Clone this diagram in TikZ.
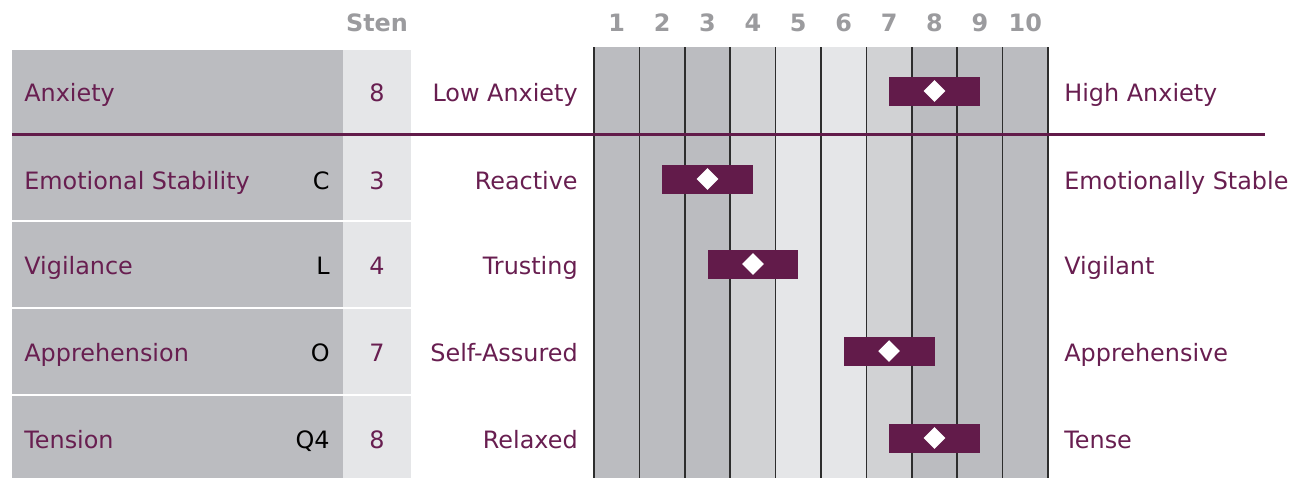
\documentclass[tikz,border=0pt]{standalone}
\usepackage{fontspec}
\setmainfont{DejaVu Sans}
\usetikzlibrary{calc,shapes.geometric}
\tikzset{
  row-text/.style={
    font=\fontsize{13.6}{16}\selectfont,
    inner sep=0pt
  },
  name-text/.style={row-text, text=textpurple, anchor=base west},
  factor-text/.style={row-text, text=black, anchor=base east},
  sten-text/.style={row-text, text=textpurple, anchor=base},
  pole-left/.style={row-text, text=textpurple, anchor=base east},
  pole-right/.style={row-text, text=textpurple, anchor=base west},
  head-text/.style={row-text, font=\fontsize{13.6}{16}\selectfont\bfseries, text=headgray, anchor=base},
  grid-line/.style={draw=gridline, line width=1pt},
  sten-diamond/.style={diamond, fill=white, inner sep=0pt, minimum size=0.44cm}
}
\definecolor{textpurple}{RGB}{104,30,80}
\definecolor{stenpurple}{RGB}{98,27,74}
\definecolor{bandgray}{RGB}{187,188,192}
\definecolor{midgray}{RGB}{209,210,212}
\definecolor{palegray}{RGB}{229,230,232}
\definecolor{headgray}{RGB}{155,155,158}
\definecolor{gridline}{RGB}{45,45,45}
\def\colw{45.4}
% #1 id, #2 row centre, #3 scale, #4 factor, #5 sten, #6 low pole, #7 high pole
\newcommand{\stenrow}[7]{
  \node[name-text] (name-#1) at (24,#2+9) {#3};
  \node[factor-text] (factor-#1) at (330,#2+9) {#4};
  \node[sten-text] (sten-#1) at (377,#2+9) {#5};
  \node[pole-left] (low-#1) at (578,#2+9) {#6};
  \node[pole-right] (high-#1) at (1064,#2+9) {#7};
  \fill[stenpurple] ({594+(#5-1.5)*\colw},#2-15.5) rectangle ({594+(#5+0.5)*\colw},#2+13.5);
  \node[sten-diamond] (mark-#1) at ({594+(#5-0.5)*\colw},#2-1) {};
}

\begin{document}
\begin{tikzpicture}[x=0.02cm, y=-0.02cm]
  \useasboundingbox (0,0) rectangle (1301,478);
  % Left columns
  \fill[bandgray] (12,50) rectangle (343,478);
  \fill[palegray] (343,50) rectangle (411,478);
  \foreach \y in {221,308,395}
    \draw[white, line width=0.05cm] (12,\y) -- (411,\y);
  % Sten bands
  \foreach \c/\shade in {1/bandgray,2/bandgray,3/bandgray,4/midgray,5/palegray,
                         6/palegray,7/midgray,8/bandgray,9/bandgray,10/bandgray}
    \fill[\shade] ({594+(\c-1)*\colw},47) rectangle ({594+\c*\colw},478);
  \foreach \c in {0,...,10}
    \draw[grid-line] ({594+\c*\colw},47) -- ({594+\c*\colw},478);
  % Header
  \node[head-text] (sten-head) at (377,31.5) {Sten};
  \foreach \c in {1,...,10}
    \node[head-text] (head-\c) at ({594+(\c-0.5)*\colw},31.5) {\c};
  % Rows
  \stenrow{anx}{92}{Anxiety}{}{8}{Low Anxiety}{High Anxiety}
  \stenrow{c}{180}{Emotional Stability}{C}{3}{Reactive}{Emotionally Stable}
  \stenrow{l}{265}{Vigilance}{L}{4}{Trusting}{Vigilant}
  \stenrow{o}{352}{Apprehension}{O}{7}{Self-Assured}{Apprehensive}
  \stenrow{q4}{439}{Tension}{Q4}{8}{Relaxed}{Tense}
  % Separator
  \draw[stenpurple, line width=0.07cm] (12,134.5) -- (1265,134.5);
\end{tikzpicture}
\end{document}
